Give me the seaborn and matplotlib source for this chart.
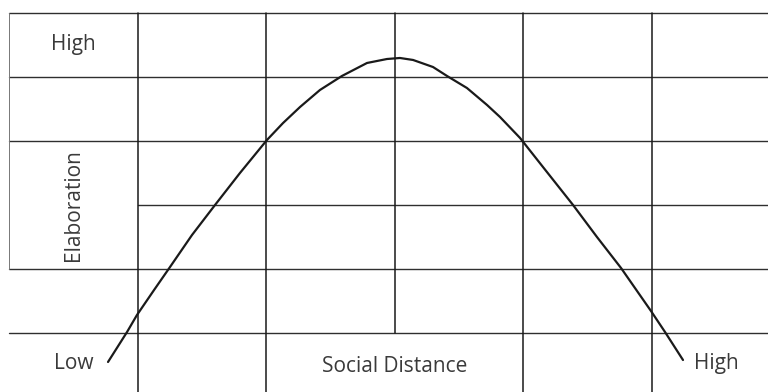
import pandas as pd
import matplotlib
matplotlib.use('Agg')
import matplotlib.pyplot as plt
import seaborn as sns

# Curve: elaboration vs social distance (grid units, columns 0..5, rows 0..5)
distance = [0.770, 0.918, 0.995, 1.128, 1.252, 1.423, 1.602, 1.796, 2.006, 2.131,
            2.263, 2.418, 2.589, 2.784, 2.939, 3.040, 3.142, 3.297, 3.406, 3.561,
            3.717, 3.818, 3.974, 4.152, 4.386, 4.572, 4.759, 4.992, 5.101, 5.241]
elaboration = [-0.453, 0.016, 0.281, 0.672, 1.031, 1.531, 2.000, 2.500, 3.016, 3.281,
               3.531, 3.797, 4.016, 4.219, 4.281, 4.297, 4.266, 4.156, 4.016, 3.828,
               3.563, 3.375, 3.047, 2.594, 2.000, 1.500, 1.016, 0.344, 0.016, -0.422]

# grid
row_levels = [0, 1, 2, 3, 4, 5]
col_levels = [1, 2, 3, 4, 5]

sns.set_style("white")
plt.rcParams['font.family'] = ['Open Sans', 'DejaVu Sans']

data = pd.DataFrame({'distance': distance, 'elaboration': elaboration})

fig = plt.figure(figsize=(7.68, 3.92), dpi=100)
ax = fig.add_axes([0, 0, 1, 1])
ax.set_xlim(-0.07, 5.902)
ax.set_ylim(-0.922, 5.203)

grid_color = '#2f2f2f'
# horizontal lines (row 2 starts at the first column)
for r in row_levels:
    x0 = 1 if r == 2 else 0
    ax.plot([x0, ax.get_xlim()[1]], [r, r], color=grid_color, lw=1.0, zorder=1)
# vertical lines (middle one stops at the bottom row)
for c in col_levels:
    y0 = 0 if c == 3 else ax.get_ylim()[0]
    ax.plot([c, c], [y0, 5], color='#1a1a1a', lw=1.1, zorder=1)
# faint left border
ax.plot([0, 0], [1, 5], color='#777777', lw=0.7, zorder=1)

sns.lineplot(data=data, x='distance', y='elaboration', ax=ax, color='#1a1a1a',
             lw=1.6, estimator=None, sort=False, zorder=3)

txt = dict(color='#3a3a3a', fontsize=15, ha='center', va='center')
ax.text(0.5, 4.50, 'High', **txt)
ax.text(0.5, 2.00, 'Elaboration', rotation=90, **txt)
ax.text(0.5, -0.48, 'Low', **txt)
ax.text(3.0, -0.52, 'Social Distance', **txt)
ax.text(5.5, -0.48, 'High', **txt)

ax.set_xlabel('')
ax.set_ylabel('')
ax.set_xticks([])
ax.set_yticks([])
for s in ax.spines.values():
    s.set_visible(False)

fig.savefig('out.png', dpi=100)
